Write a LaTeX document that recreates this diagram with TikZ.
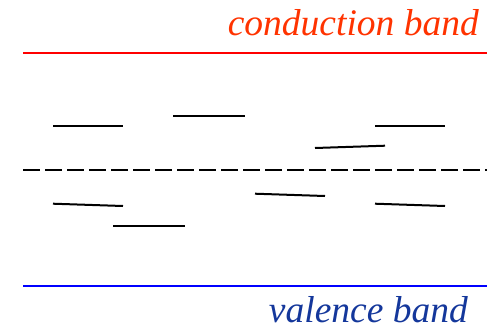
\documentclass[tikz,border=0pt]{standalone}
\usepackage{fontspec}
\setmainfont{Liberation Serif}
\definecolor{condcol}{RGB}{255,51,0}
\definecolor{valcol}{RGB}{20,55,155}
\begin{document}
\begin{tikzpicture}[x=1pt,y=-1pt,
  bandline/.style={line width=2pt},
  level/.style={line width=2pt, black},
  fermi/.style={line width=2pt, black, dash pattern=on 17pt off 5pt},
  bandlabel/.style={inner sep=0pt, anchor=base east, text depth=0pt,
    font=\fontsize{37.5}{40}\selectfont\itshape}]
  \useasboundingbox (0,0) rectangle (489,330);
  % band edges
  \draw[bandline, red] (23,53) -- (487,53);
  \draw[bandline, blue] (23,286) -- (487,286);
  % Fermi level
  \draw[fermi] (23,170) -- (487,170);
  % localized trap levels
  \draw[level] (53,125.7) -- (123,125.7);
  \draw[level] (173,115.7) -- (245,115.7);
  \draw[level] (375,125.7) -- (445,125.7);
  \draw[level] (315,148) -- (385,145.7);
  \draw[level] (53,203.7) -- (123,206);
  \draw[level] (255,193.7) -- (325,196);
  \draw[level] (375,203.7) -- (445,206);
  \draw[level] (113,225.7) -- (185,225.7);
  % labels
  \node[bandlabel, text=condcol] (cb) at (479,35) {conduction band};
  \node[bandlabel, text=valcol] (vb) at (468,322.5) {valence band};
\end{tikzpicture}
\end{document}
